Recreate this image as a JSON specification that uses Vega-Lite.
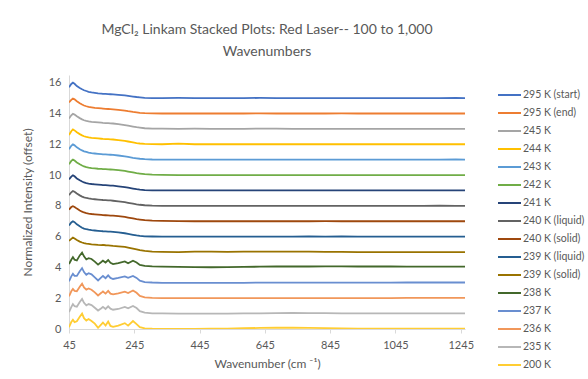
{
  "$schema": "https://vega.github.io/schema/vega-lite/v6.json",
  "autosize": {"type": "none"},
  "width": 396,
  "height": 254,
  "padding": {"left": 69, "top": 75, "right": 123, "bottom": 50},
  "background": "white",
  "title": {
    "text": ["MgCl₂ Linkam Stacked Plots: Red Laser-- 100 to 1,000", "Wavenumbers"],
    "font": "Lato",
    "fontSize": 14,
    "fontWeight": "normal",
    "color": "#595959",
    "anchor": "middle",
    "offset": 16,
    "lineHeight": 22
  },
  "data": {
    "values": [
      {"wn": 45, "295 K (start)": 15.70, "295 K (end)": 14.72, "245 K": 13.68, "244 K": 12.60, "243 K": 11.68, "242 K": 10.70, "241 K": 9.72, "240 K (liquid)": 8.70, "240 K (solid)": 7.75, "239 K (liquid)": 6.72, "239 K (solid)": 5.72, "238 K": 4.22, "237 K": 3.10, "236 K": 2.12, "235 K": 1.10, "200 K": 0.12},
      {"wn": 52, "295 K (start)": 15.92, "295 K (end)": 14.88, "245 K": 13.88, "244 K": 12.85, "243 K": 11.90, "242 K": 10.92, "241 K": 9.90, "240 K (liquid)": 8.88, "240 K (solid)": 7.92, "239 K (liquid)": 6.92, "239 K (solid)": 5.85, "238 K": 4.50, "237 K": 3.42, "236 K": 2.45, "235 K": 1.42, "200 K": 0.45},
      {"wn": 57, "295 K (start)": 16.00, "295 K (end)": 14.97, "245 K": 13.98, "244 K": 12.96, "243 K": 11.99, "242 K": 11.00, "241 K": 9.98, "240 K (liquid)": 8.96, "240 K (solid)": 7.98, "239 K (liquid)": 7.00, "239 K (solid)": 5.94, "238 K": 4.67, "237 K": 3.58, "236 K": 2.60, "235 K": 1.62, "200 K": 0.60},
      {"wn": 62, "295 K (start)": 15.93, "295 K (end)": 14.92, "245 K": 13.93, "244 K": 12.90, "243 K": 11.93, "242 K": 10.94, "241 K": 9.92, "240 K (liquid)": 8.92, "240 K (solid)": 7.93, "239 K (liquid)": 6.94, "239 K (solid)": 5.88, "238 K": 4.50, "237 K": 3.45, "236 K": 2.48, "235 K": 1.48, "200 K": 0.45},
      {"wn": 69, "295 K (start)": 15.78, "295 K (end)": 14.80, "245 K": 13.82, "244 K": 12.78, "243 K": 11.80, "242 K": 10.82, "241 K": 9.78, "240 K (liquid)": 8.80, "240 K (solid)": 7.82, "239 K (liquid)": 6.80, "239 K (solid)": 5.78, "238 K": 4.45, "237 K": 3.45, "236 K": 2.45, "235 K": 1.45, "200 K": 0.50},
      {"wn": 78, "295 K (start)": 15.65, "295 K (end)": 14.67, "245 K": 13.70, "244 K": 12.66, "243 K": 11.68, "242 K": 10.70, "241 K": 9.66, "240 K (liquid)": 8.68, "240 K (solid)": 7.70, "239 K (liquid)": 6.67, "239 K (solid)": 5.68, "238 K": 4.78, "237 K": 3.75, "236 K": 2.75, "235 K": 1.75, "200 K": 0.80},
      {"wn": 85, "295 K (start)": 15.57, "295 K (end)": 14.58, "245 K": 13.62, "244 K": 12.58, "243 K": 11.60, "242 K": 10.62, "241 K": 9.58, "240 K (liquid)": 8.60, "240 K (solid)": 7.62, "239 K (liquid)": 6.58, "239 K (solid)": 5.62, "238 K": 4.96, "237 K": 3.95, "236 K": 2.95, "235 K": 1.95, "200 K": 1.00},
      {"wn": 91, "295 K (start)": 15.51, "295 K (end)": 14.52, "245 K": 13.56, "244 K": 12.52, "243 K": 11.54, "242 K": 10.56, "241 K": 9.52, "240 K (liquid)": 8.55, "240 K (solid)": 7.57, "239 K (liquid)": 6.52, "239 K (solid)": 5.58, "238 K": 4.72, "237 K": 3.70, "236 K": 2.70, "235 K": 1.70, "200 K": 0.70},
      {"wn": 98, "295 K (start)": 15.46, "295 K (end)": 14.47, "245 K": 13.52, "244 K": 12.48, "243 K": 11.50, "242 K": 10.51, "241 K": 9.48, "240 K (liquid)": 8.51, "240 K (solid)": 7.53, "239 K (liquid)": 6.48, "239 K (solid)": 5.55, "238 K": 4.52, "237 K": 3.52, "236 K": 2.55, "235 K": 1.53, "200 K": 0.55},
      {"wn": 105, "295 K (start)": 15.41, "295 K (end)": 14.43, "245 K": 13.49, "244 K": 12.45, "243 K": 11.46, "242 K": 10.48, "241 K": 9.45, "240 K (liquid)": 8.48, "240 K (solid)": 7.50, "239 K (liquid)": 6.45, "239 K (solid)": 5.53, "238 K": 4.60, "237 K": 3.62, "236 K": 2.63, "235 K": 1.62, "200 K": 0.65},
      {"wn": 114, "295 K (start)": 15.37, "295 K (end)": 14.40, "245 K": 13.46, "244 K": 12.42, "243 K": 11.42, "242 K": 10.45, "241 K": 9.42, "240 K (liquid)": 8.45, "240 K (solid)": 7.47, "239 K (liquid)": 6.42, "239 K (solid)": 5.50, "238 K": 4.55, "237 K": 3.55, "236 K": 2.55, "235 K": 1.55, "200 K": 0.52},
      {"wn": 124, "295 K (start)": 15.34, "295 K (end)": 14.37, "245 K": 13.44, "244 K": 12.40, "243 K": 11.40, "242 K": 10.43, "241 K": 9.40, "240 K (liquid)": 8.43, "240 K (solid)": 7.45, "239 K (liquid)": 6.40, "239 K (solid)": 5.48, "238 K": 4.38, "237 K": 3.35, "236 K": 2.38, "235 K": 1.38, "200 K": 0.35},
      {"wn": 134, "295 K (start)": 15.31, "295 K (end)": 14.35, "245 K": 13.42, "244 K": 12.38, "243 K": 11.38, "242 K": 10.41, "241 K": 9.38, "240 K (liquid)": 8.41, "240 K (solid)": 7.43, "239 K (liquid)": 6.38, "239 K (solid)": 5.46, "238 K": 4.18, "237 K": 3.15, "236 K": 2.18, "235 K": 1.20, "200 K": 0.08},
      {"wn": 144, "295 K (start)": 15.29, "295 K (end)": 14.33, "245 K": 13.40, "244 K": 12.36, "243 K": 11.36, "242 K": 10.40, "241 K": 9.36, "240 K (liquid)": 8.39, "240 K (solid)": 7.41, "239 K (liquid)": 6.36, "239 K (solid)": 5.45, "238 K": 4.35, "237 K": 3.35, "236 K": 2.35, "235 K": 1.35, "200 K": 0.30},
      {"wn": 149, "295 K (start)": 15.28, "295 K (end)": 14.32, "245 K": 13.39, "244 K": 12.35, "243 K": 11.35, "242 K": 10.39, "241 K": 9.35, "240 K (liquid)": 8.38, "240 K (solid)": 7.40, "239 K (liquid)": 6.35, "239 K (solid)": 5.47, "238 K": 4.44, "237 K": 3.44, "236 K": 2.44, "235 K": 1.44, "200 K": 0.42},
      {"wn": 157, "295 K (start)": 15.27, "295 K (end)": 14.30, "245 K": 13.38, "244 K": 12.34, "243 K": 11.34, "242 K": 10.38, "241 K": 9.34, "240 K (liquid)": 8.37, "240 K (solid)": 7.39, "239 K (liquid)": 6.34, "239 K (solid)": 5.44, "238 K": 4.32, "237 K": 3.30, "236 K": 2.30, "235 K": 1.30, "200 K": 0.22},
      {"wn": 165, "295 K (start)": 15.26, "295 K (end)": 14.29, "245 K": 13.37, "244 K": 12.33, "243 K": 11.33, "242 K": 10.37, "241 K": 9.33, "240 K (liquid)": 8.36, "240 K (solid)": 7.38, "239 K (liquid)": 6.33, "239 K (solid)": 5.43, "238 K": 4.48, "237 K": 3.48, "236 K": 2.48, "235 K": 1.47, "200 K": 0.48},
      {"wn": 172, "295 K (start)": 15.25, "295 K (end)": 14.28, "245 K": 13.36, "244 K": 12.32, "243 K": 11.32, "242 K": 10.36, "241 K": 9.32, "240 K (liquid)": 8.35, "240 K (solid)": 7.37, "239 K (liquid)": 6.32, "239 K (solid)": 5.42, "238 K": 4.30, "237 K": 3.32, "236 K": 2.30, "235 K": 1.32, "200 K": 0.20},
      {"wn": 180, "295 K (start)": 15.24, "295 K (end)": 14.27, "245 K": 13.35, "244 K": 12.31, "243 K": 11.31, "242 K": 10.35, "241 K": 9.31, "240 K (liquid)": 8.33, "240 K (solid)": 7.36, "239 K (liquid)": 6.31, "239 K (solid)": 5.40, "238 K": 4.22, "237 K": 3.25, "236 K": 2.25, "235 K": 1.25, "200 K": 0.14},
      {"wn": 196, "295 K (start)": 15.21, "295 K (end)": 14.24, "245 K": 13.31, "244 K": 12.27, "243 K": 11.27, "242 K": 10.32, "241 K": 9.27, "240 K (liquid)": 8.29, "240 K (solid)": 7.33, "239 K (liquid)": 6.27, "239 K (solid)": 5.37, "238 K": 4.28, "237 K": 3.32, "236 K": 2.32, "235 K": 1.30, "200 K": 0.22},
      {"wn": 216, "295 K (start)": 15.17, "295 K (end)": 14.19, "245 K": 13.25, "244 K": 12.22, "243 K": 11.22, "242 K": 10.27, "241 K": 9.22, "240 K (liquid)": 8.24, "240 K (solid)": 7.28, "239 K (liquid)": 6.22, "239 K (solid)": 5.33, "238 K": 4.39, "237 K": 3.42, "236 K": 2.42, "235 K": 1.43, "200 K": 0.38},
      {"wn": 226, "295 K (start)": 15.14, "295 K (end)": 14.15, "245 K": 13.21, "244 K": 12.18, "243 K": 11.18, "242 K": 10.23, "241 K": 9.18, "240 K (liquid)": 8.20, "240 K (solid)": 7.24, "239 K (liquid)": 6.18, "239 K (solid)": 5.29, "238 K": 4.27, "237 K": 3.32, "236 K": 2.34, "235 K": 1.34, "200 K": 0.22},
      {"wn": 241, "295 K (start)": 15.10, "295 K (end)": 14.10, "245 K": 13.15, "244 K": 12.12, "243 K": 11.12, "242 K": 10.17, "241 K": 9.12, "240 K (liquid)": 8.14, "240 K (solid)": 7.18, "239 K (liquid)": 6.12, "239 K (solid)": 5.22, "238 K": 4.43, "237 K": 3.45, "236 K": 2.50, "235 K": 1.50, "200 K": 0.52},
      {"wn": 252, "295 K (start)": 15.07, "295 K (end)": 14.07, "245 K": 13.11, "244 K": 12.08, "243 K": 11.09, "242 K": 10.13, "241 K": 9.08, "240 K (liquid)": 8.10, "240 K (solid)": 7.14, "239 K (liquid)": 6.08, "239 K (solid)": 5.17, "238 K": 4.32, "237 K": 3.32, "236 K": 2.35, "235 K": 1.36, "200 K": 0.32},
      {"wn": 262, "295 K (start)": 15.05, "295 K (end)": 14.04, "245 K": 13.08, "244 K": 12.05, "243 K": 11.06, "242 K": 10.10, "241 K": 9.05, "240 K (liquid)": 8.07, "240 K (solid)": 7.11, "239 K (liquid)": 6.05, "239 K (solid)": 5.12, "238 K": 4.16, "237 K": 3.14, "236 K": 2.15, "235 K": 1.16, "200 K": 0.12},
      {"wn": 277, "295 K (start)": 15.02, "295 K (end)": 14.02, "245 K": 13.04, "244 K": 12.02, "243 K": 11.03, "242 K": 10.06, "241 K": 9.02, "240 K (liquid)": 8.04, "240 K (solid)": 7.07, "239 K (liquid)": 6.02, "239 K (solid)": 5.07, "238 K": 4.10, "237 K": 3.05, "236 K": 2.06, "235 K": 1.06, "200 K": 0.04},
      {"wn": 300, "295 K (start)": 15.00, "295 K (end)": 14.01, "245 K": 13.02, "244 K": 12.01, "243 K": 11.01, "242 K": 10.03, "241 K": 9.01, "240 K (liquid)": 8.01, "240 K (solid)": 7.04, "239 K (liquid)": 6.01, "239 K (solid)": 5.03, "238 K": 4.07, "237 K": 3.02, "236 K": 2.02, "235 K": 1.02, "200 K": 0.02},
      {"wn": 330, "295 K (start)": 15.00, "295 K (end)": 14.00, "245 K": 13.01, "244 K": 12.00, "243 K": 11.00, "242 K": 10.01, "241 K": 9.00, "240 K (liquid)": 8.00, "240 K (solid)": 7.02, "239 K (liquid)": 6.00, "239 K (solid)": 5.01, "238 K": 4.05, "237 K": 3.00, "236 K": 2.00, "235 K": 1.01, "200 K": 0.01},
      {"wn": 380, "295 K (start)": 15.01, "295 K (end)": 14.00, "245 K": 13.00, "244 K": 12.04, "243 K": 11.00, "242 K": 10.00, "241 K": 9.00, "240 K (liquid)": 8.00, "240 K (solid)": 7.01, "239 K (liquid)": 6.00, "239 K (solid)": 5.00, "238 K": 4.03, "237 K": 3.00, "236 K": 2.00, "235 K": 1.00, "200 K": 0.00},
      {"wn": 430, "295 K (start)": 15.00, "295 K (end)": 14.00, "245 K": 13.01, "244 K": 12.00, "243 K": 11.00, "242 K": 10.00, "241 K": 9.01, "240 K (liquid)": 8.00, "240 K (solid)": 7.00, "239 K (liquid)": 6.00, "239 K (solid)": 5.02, "238 K": 4.02, "237 K": 3.00, "236 K": 2.00, "235 K": 1.00, "200 K": 0.01},
      {"wn": 480, "295 K (start)": 15.00, "295 K (end)": 14.00, "245 K": 13.00, "244 K": 12.00, "243 K": 11.00, "242 K": 10.00, "241 K": 9.00, "240 K (liquid)": 8.00, "240 K (solid)": 7.00, "239 K (liquid)": 6.00, "239 K (solid)": 5.02, "238 K": 4.01, "237 K": 3.00, "236 K": 2.00, "235 K": 1.00, "200 K": 0.02},
      {"wn": 530, "295 K (start)": 15.00, "295 K (end)": 14.00, "245 K": 13.00, "244 K": 12.00, "243 K": 11.00, "242 K": 10.00, "241 K": 9.00, "240 K (liquid)": 8.00, "240 K (solid)": 7.00, "239 K (liquid)": 6.00, "239 K (solid)": 5.01, "238 K": 4.02, "237 K": 3.00, "236 K": 2.00, "235 K": 1.00, "200 K": 0.03},
      {"wn": 580, "295 K (start)": 15.00, "295 K (end)": 14.00, "245 K": 13.00, "244 K": 12.00, "243 K": 11.00, "242 K": 10.00, "241 K": 9.00, "240 K (liquid)": 8.00, "240 K (solid)": 7.00, "239 K (liquid)": 6.00, "239 K (solid)": 5.02, "238 K": 4.03, "237 K": 3.00, "236 K": 2.00, "235 K": 1.01, "200 K": 0.05},
      {"wn": 630, "295 K (start)": 15.01, "295 K (end)": 14.01, "245 K": 13.02, "244 K": 12.00, "243 K": 11.00, "242 K": 10.00, "241 K": 9.00, "240 K (liquid)": 8.00, "240 K (solid)": 7.00, "239 K (liquid)": 6.00, "239 K (solid)": 5.02, "238 K": 4.05, "237 K": 3.01, "236 K": 2.00, "235 K": 1.02, "200 K": 0.07},
      {"wn": 680, "295 K (start)": 15.00, "295 K (end)": 14.00, "245 K": 13.01, "244 K": 12.00, "243 K": 11.00, "242 K": 10.00, "241 K": 9.00, "240 K (liquid)": 8.00, "240 K (solid)": 7.00, "239 K (liquid)": 6.00, "239 K (solid)": 5.03, "238 K": 4.06, "237 K": 3.01, "236 K": 2.01, "235 K": 1.03, "200 K": 0.08},
      {"wn": 730, "295 K (start)": 15.00, "295 K (end)": 14.00, "245 K": 13.00, "244 K": 12.00, "243 K": 11.00, "242 K": 10.00, "241 K": 9.00, "240 K (liquid)": 8.00, "240 K (solid)": 7.00, "239 K (liquid)": 6.00, "239 K (solid)": 5.02, "238 K": 4.06, "237 K": 3.01, "236 K": 2.01, "235 K": 1.04, "200 K": 0.08},
      {"wn": 780, "295 K (start)": 15.00, "295 K (end)": 14.00, "245 K": 13.00, "244 K": 12.00, "243 K": 11.00, "242 K": 10.00, "241 K": 9.00, "240 K (liquid)": 8.00, "240 K (solid)": 7.00, "239 K (liquid)": 6.01, "239 K (solid)": 5.02, "238 K": 4.06, "237 K": 3.01, "236 K": 2.01, "235 K": 1.03, "200 K": 0.07},
      {"wn": 830, "295 K (start)": 15.00, "295 K (end)": 14.00, "245 K": 13.00, "244 K": 12.00, "243 K": 11.00, "242 K": 10.00, "241 K": 9.00, "240 K (liquid)": 8.00, "240 K (solid)": 7.01, "239 K (liquid)": 6.00, "239 K (solid)": 5.01, "238 K": 4.07, "237 K": 3.01, "236 K": 2.01, "235 K": 1.03, "200 K": 0.06},
      {"wn": 880, "295 K (start)": 15.00, "295 K (end)": 14.01, "245 K": 13.00, "244 K": 12.00, "243 K": 11.00, "242 K": 10.00, "241 K": 9.00, "240 K (liquid)": 8.00, "240 K (solid)": 7.00, "239 K (liquid)": 6.01, "239 K (solid)": 5.01, "238 K": 4.07, "237 K": 3.01, "236 K": 2.01, "235 K": 1.02, "200 K": 0.04},
      {"wn": 930, "295 K (start)": 15.00, "295 K (end)": 14.00, "245 K": 13.00, "244 K": 12.00, "243 K": 11.00, "242 K": 10.00, "241 K": 9.00, "240 K (liquid)": 8.00, "240 K (solid)": 7.00, "239 K (liquid)": 6.00, "239 K (solid)": 5.00, "238 K": 4.06, "237 K": 3.01, "236 K": 2.01, "235 K": 1.02, "200 K": 0.03},
      {"wn": 980, "295 K (start)": 15.00, "295 K (end)": 14.00, "245 K": 13.00, "244 K": 12.00, "243 K": 11.00, "242 K": 10.00, "241 K": 9.00, "240 K (liquid)": 8.00, "240 K (solid)": 7.00, "239 K (liquid)": 6.00, "239 K (solid)": 5.00, "238 K": 4.06, "237 K": 3.01, "236 K": 2.01, "235 K": 1.02, "200 K": 0.02},
      {"wn": 1030, "295 K (start)": 15.00, "295 K (end)": 14.00, "245 K": 13.00, "244 K": 12.00, "243 K": 11.00, "242 K": 10.00, "241 K": 9.00, "240 K (liquid)": 8.00, "240 K (solid)": 7.00, "239 K (liquid)": 6.00, "239 K (solid)": 5.00, "238 K": 4.06, "237 K": 3.01, "236 K": 2.01, "235 K": 1.02, "200 K": 0.02},
      {"wn": 1080, "295 K (start)": 15.00, "295 K (end)": 14.00, "245 K": 13.00, "244 K": 12.00, "243 K": 11.00, "242 K": 10.00, "241 K": 9.00, "240 K (liquid)": 8.00, "240 K (solid)": 7.00, "239 K (liquid)": 6.00, "239 K (solid)": 5.00, "238 K": 4.05, "237 K": 3.02, "236 K": 2.02, "235 K": 1.02, "200 K": 0.02},
      {"wn": 1130, "295 K (start)": 15.00, "295 K (end)": 14.00, "245 K": 13.00, "244 K": 12.00, "243 K": 11.00, "242 K": 10.00, "241 K": 9.00, "240 K (liquid)": 8.00, "240 K (solid)": 7.00, "239 K (liquid)": 6.00, "239 K (solid)": 5.00, "238 K": 4.05, "237 K": 3.02, "236 K": 2.02, "235 K": 1.02, "200 K": 0.02},
      {"wn": 1180, "295 K (start)": 15.00, "295 K (end)": 14.00, "245 K": 13.00, "244 K": 12.00, "243 K": 11.00, "242 K": 10.00, "241 K": 9.00, "240 K (liquid)": 8.02, "240 K (solid)": 7.00, "239 K (liquid)": 6.00, "239 K (solid)": 5.00, "238 K": 4.05, "237 K": 3.02, "236 K": 2.02, "235 K": 1.02, "200 K": 0.02},
      {"wn": 1230, "295 K (start)": 15.01, "295 K (end)": 14.00, "245 K": 13.00, "244 K": 12.00, "243 K": 11.01, "242 K": 10.00, "241 K": 9.01, "240 K (liquid)": 8.00, "240 K (solid)": 7.00, "239 K (liquid)": 6.00, "239 K (solid)": 5.00, "238 K": 4.05, "237 K": 3.02, "236 K": 2.02, "235 K": 1.02, "200 K": 0.02},
      {"wn": 1258, "295 K (start)": 15.00, "295 K (end)": 14.00, "245 K": 13.00, "244 K": 12.00, "243 K": 11.00, "242 K": 10.00, "241 K": 9.00, "240 K (liquid)": 8.00, "240 K (solid)": 7.00, "239 K (liquid)": 6.00, "239 K (solid)": 5.00, "238 K": 4.05, "237 K": 3.02, "236 K": 2.02, "235 K": 1.02, "200 K": 0.02}
    ]
  },
  "transform": [
    {
      "fold": ["295 K (start)", "295 K (end)", "245 K", "244 K", "243 K", "242 K", "241 K", "240 K (liquid)", "240 K (solid)", "239 K (liquid)", "239 K (solid)", "238 K", "237 K", "236 K", "235 K", "200 K"],
      "as": ["series", "intensity"]
    }
  ],
  "mark": {"type": "line", "strokeWidth": 1.8, "clip": true},
  "encoding": {
    "x": {
      "field": "wn",
      "type": "quantitative",
      "scale": {"domain": [45, 1258], "nice": false, "zero": false},
      "axis": {
        "title": "Wavenumber (cm ⁻¹)",
        "values": [45, 245, 445, 645, 845, 1045, 1245],
        "format": "d",
        "labelFlush": false,
        "grid": false,
        "domainColor": "#d9d9d9",
        "tickColor": "#d9d9d9",
        "tickSize": 4,
        "labelFont": "Lato",
        "labelFontSize": 11,
        "labelColor": "#595959",
        "labelPadding": 6,
        "titleFont": "Lato",
        "titleFontSize": 12,
        "titleFontWeight": "normal",
        "titleColor": "#595959",
        "titlePadding": 8
      }
    },
    "y": {
      "field": "intensity",
      "type": "quantitative",
      "scale": {"domain": [0, 16.5], "nice": false},
      "axis": {
        "title": "Normalized Intensity (offset)",
        "values": [0, 2, 4, 6, 8, 10, 12, 14, 16],
        "grid": false,
        "ticks": false,
        "domainColor": "#d9d9d9",
        "labelFont": "Lato",
        "labelFontSize": 11,
        "labelColor": "#595959",
        "labelPadding": 8,
        "titleFont": "Lato",
        "titleFontSize": 12,
        "titleFontWeight": "normal",
        "titleColor": "#595959",
        "titlePadding": 14
      }
    },
    "color": {
      "field": "series",
      "type": "nominal",
      "sort": null,
      "scale": {
        "domain": ["295 K (start)", "295 K (end)", "245 K", "244 K", "243 K", "242 K", "241 K", "240 K (liquid)", "240 K (solid)", "239 K (liquid)", "239 K (solid)", "238 K", "237 K", "236 K", "235 K", "200 K"],
        "range": ["#4472C4", "#ED7D31", "#A5A5A5", "#FFC000", "#5B9BD5", "#70AD47", "#264478", "#636363", "#9E480E", "#255E91", "#997300", "#43682B", "#698ED0", "#F1975A", "#B7B7B7", "#FFCD33"]
      },
      "legend": {
        "title": null,
        "orient": "none",
        "legendX": 428,
        "legendY": 7.5,
        "symbolType": "stroke",
        "symbolSize": 529,
        "symbolStrokeWidth": 2,
        "labelFont": "Lato",
        "labelFontSize": 10.5,
        "labelColor": "#595959",
        "labelOffset": 1,
        "rowPadding": -4
      }
    }
  },
  "config": {
    "view": {"stroke": null}
  }
}
